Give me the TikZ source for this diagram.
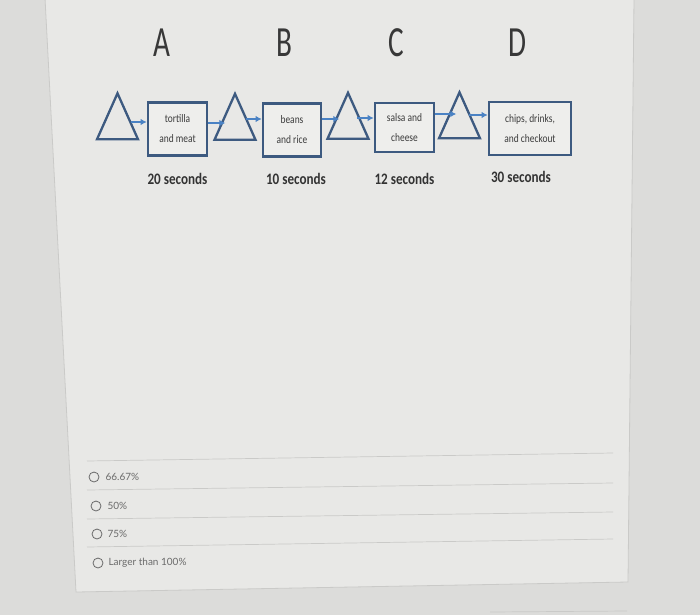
\documentclass[tikz,border=0pt]{standalone}
\usepackage{fontspec}
\setmainfont{Carlito}
\newfontfamily\condfont[FakeStretch=0.82]{Carlito}
\newfontfamily\letterfont[FakeStretch=0.68]{Carlito}
\newfontfamily\optfont{Lato}
\usetikzlibrary{positioning,shapes.geometric,arrows.meta}

\definecolor{edgeblue}{HTML}{3D5A80}
\definecolor{arrowblue}{HTML}{4A82C4}
\definecolor{panelgray}{HTML}{E8E8E6}
\definecolor{outgray}{HTML}{DCDCDA}
\definecolor{linegray}{HTML}{CACAC8}
\definecolor{boxfill}{HTML}{EEEEEC}
\definecolor{textgray}{HTML}{3C3C3C}
\definecolor{optgray}{HTML}{6A6A6A}

\tikzset{
	tri/.style={draw=edgeblue, line width=2.3pt, isosceles triangle, isosceles triangle stretches,
		shape border rotate=90, minimum width=41pt, minimum height=46pt, inner sep=0pt},
	stage/.style={draw=edgeblue, fill=boxfill, line width=2.6pt, minimum width=59pt, minimum height=53pt,
		inner sep=0pt, align=center, text=textgray, font=\condfont\fontsize{11.5}{20}\selectfont},
	flow/.style={draw=arrowblue, line width=2.3pt, -{Latex[length=6pt,width=6.5pt]}},
	secs/.style={font=\condfont\bfseries\fontsize{16}{16}\selectfont, text=black!80, inner sep=0pt},
	letter/.style={font=\letterfont\fontsize{43}{43}\selectfont, text=black!78, inner sep=0pt},
	choice/.style={circle, draw=optgray, line width=0.8pt, minimum size=10pt, inner sep=0pt},
	opt/.style={font=\optfont\fontsize{10}{12}\selectfont, text=optgray, inner sep=0pt, anchor=west},
	sep/.style={draw=linegray, line width=0.7pt}
}

\begin{document}
\begin{tikzpicture}[x=1pt,y=-1pt]
	\useasboundingbox (0,0) rectangle (700,615);
	% screen
	\fill[outgray] (0,0) rectangle (700,615);
	\filldraw[fill=panelgray, draw=linegray, line width=0.8pt] (45,-2) -- (634,-2) -- (628,582) -- (76,592) -- cycle;
	\draw[sep] (490,612) -- (627,611);
	
	% stations
	\node[letter] (la) at (162,43) {A};
	\node[letter] (lb) at (284,43) {B};
	\node[letter] (lc) at (396,43) {C};
	\node[letter] (ld) at (517,43) {D};
	
	\node[tri] (t1) at (117.5,126) {};
	\node[stage] (b1) at (177.5,129) {tortilla\\and meat};
	\node[tri] (t2) at (235,126.5) {};
	\node[stage, minimum width=58pt] (b2) at (292,130) {beans\\and rice};
	\node[tri] (t3) at (348,125.5) {};
	\node[stage, minimum height=49pt] (b3) at (404.5,127.5) {salsa and\\cheese};
	\node[tri] (t4) at (459.5,125) {};
	\node[stage, minimum width=82pt] (b4) at (530,128.5) {chips, drinks,\\and checkout};
	
	\draw[flow] ([yshift=7pt,xshift=-16pt]b1.west) -- ([yshift=7pt]b1.west);
	\draw[flow] ([yshift=6pt]b1.east) -- ([yshift=6pt,xshift=17pt]b1.east);
	\draw[flow] ([yshift=11pt,xshift=-16pt]b2.west) -- ([yshift=11pt]b2.west);
	\draw[flow] ([yshift=11pt]b2.east) -- ([yshift=11pt,xshift=17pt]b2.east);
	\draw[flow] ([yshift=9.5pt,xshift=-17pt]b3.west) -- ([yshift=9.5pt]b3.west);
	\draw[flow] ([yshift=13.5pt]b3.east) -- ([yshift=13.5pt,xshift=21pt]b3.east);
	\draw[flow] ([yshift=13.5pt,xshift=-19pt]b4.west) -- ([yshift=13.5pt]b4.west);
	
	\node[secs, below=16pt of b1] (s1) {20 seconds};
	\node[secs, below=15pt of b2, xshift=4pt] (s2) {10 seconds};
	\node[secs, below=20pt of b3] (s3) {12 seconds};
	\node[secs, below=15pt of b4, xshift=-9pt] (s4) {30 seconds};
	
	% answers
	\draw[sep] (87,461) -- (613,453);
	\draw[sep] (87,490) -- (613,483);
	\draw[sep] (87,519) -- (613,512);
	\draw[sep] (87,547) -- (613,539);
	
	\node[choice] (c1) at (94,477) {};
	\node[opt, right=6pt of c1] (p1) {66.67\%};
	\node[choice] (c2) at (96,506) {};
	\node[opt, right=6pt of c2] (p2) {50\%};
	\node[choice] (c3) at (97,534) {};
	\node[opt, right=5pt of c3] (p3) {75\%};
	\node[choice] (c4) at (98,563) {};
	\node[opt, right=5pt of c4] (p4) {Larger than 100\%};
\end{tikzpicture}
\end{document}
